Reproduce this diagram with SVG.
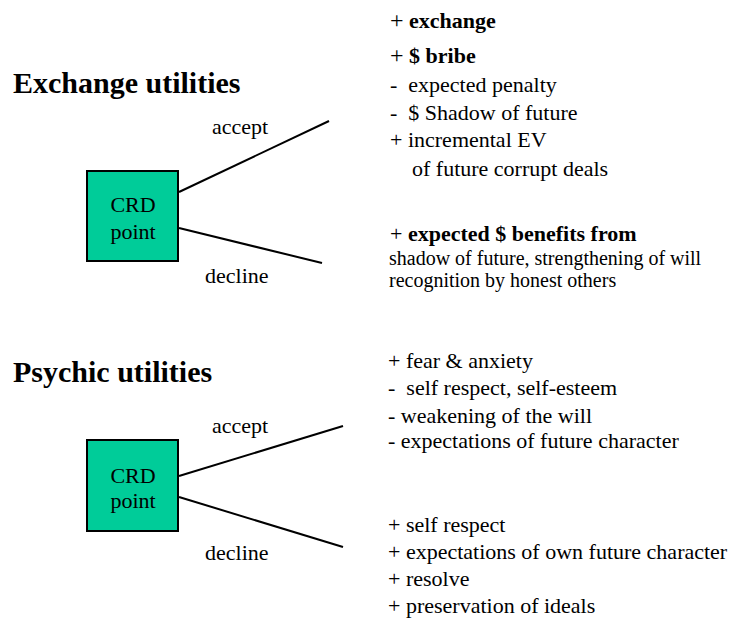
<svg xmlns="http://www.w3.org/2000/svg" width="738" height="618" viewBox="0 0 738 618">
<style>
text{font-family:"Liberation Serif","Times New Roman",serif;fill:#000}
.title{font-size:30px;font-weight:bold}
.t{font-size:22px}
.s{font-size:20px}
.b{font-weight:bold}
.box{fill:#00CC99;stroke:#000;stroke-width:2}
.edge{stroke:#000;stroke-width:2;fill:none}
</style>
<rect width="738" height="618" fill="#fff"/>
<text class="title" x="13" y="93">Exchange utilities</text>
<text class="title" x="13" y="382">Psychic utilities</text>
<g id="connectors">
<line class="edge" x1="179" y1="192" x2="329" y2="121"/>
<line class="edge" x1="179" y1="228" x2="322" y2="263"/>
<line class="edge" x1="179" y1="476" x2="343" y2="426"/>
<line class="edge" x1="179" y1="497" x2="343" y2="547"/>
<text class="t" x="212" y="134">accept</text>
<text class="t" x="205" y="283">decline</text>
<text class="t" x="212" y="433">accept</text>
<text class="t" x="205" y="560">decline</text>
</g>
<g id="crd1">
<rect class="box" x="87" y="171" width="91" height="90"/>
<text class="t" x="133" y="212" text-anchor="middle">CRD</text>
<text class="t" x="133" y="239" text-anchor="middle">point</text>
</g>
<g id="crd2">
<rect class="box" x="87" y="440" width="91" height="91"/>
<text class="t" x="133" y="483" text-anchor="middle">CRD</text>
<text class="t" x="133" y="508" text-anchor="middle">point</text>
</g>
<g id="exchange-accept">
<text class="t" x="390" y="28"><tspan font-size="24">+</tspan> <tspan class="b">exchange</tspan></text>
<text class="t" x="390" y="63"><tspan font-size="24">+</tspan> <tspan class="b">$ bribe</tspan></text>
<text class="t" x="390" y="92" xml:space="preserve">-  expected penalty</text>
<text class="t" x="390" y="120" xml:space="preserve">-  $ Shadow of future</text>
<text class="t" x="390" y="147">+ incremental EV</text>
<text class="t" x="412" y="176">of future corrupt deals</text>
</g>
<g id="exchange-decline">
<text class="t" x="390" y="241">+ <tspan class="b">expected $ benefits from</tspan></text>
<text class="s" x="389" y="265">shadow of future, strengthening of will</text>
<text class="s" x="389" y="287">recognition by honest others</text>
</g>
<g id="psychic-accept">
<text class="t" x="388" y="368">+ fear &amp; anxiety</text>
<text class="t" x="388" y="395" xml:space="preserve">-  self respect, self-esteem</text>
<text class="t" x="388" y="423">- weakening of the will</text>
<text class="t" x="388" y="448">- expectations of future character</text>
</g>
<g id="psychic-decline">
<text class="t" x="388" y="532">+ self respect</text>
<text class="t" x="388" y="559">+ expectations of own future character</text>
<text class="t" x="388" y="586">+ resolve</text>
<text class="t" x="388" y="613">+ preservation of ideals</text>
</g>
</svg>
